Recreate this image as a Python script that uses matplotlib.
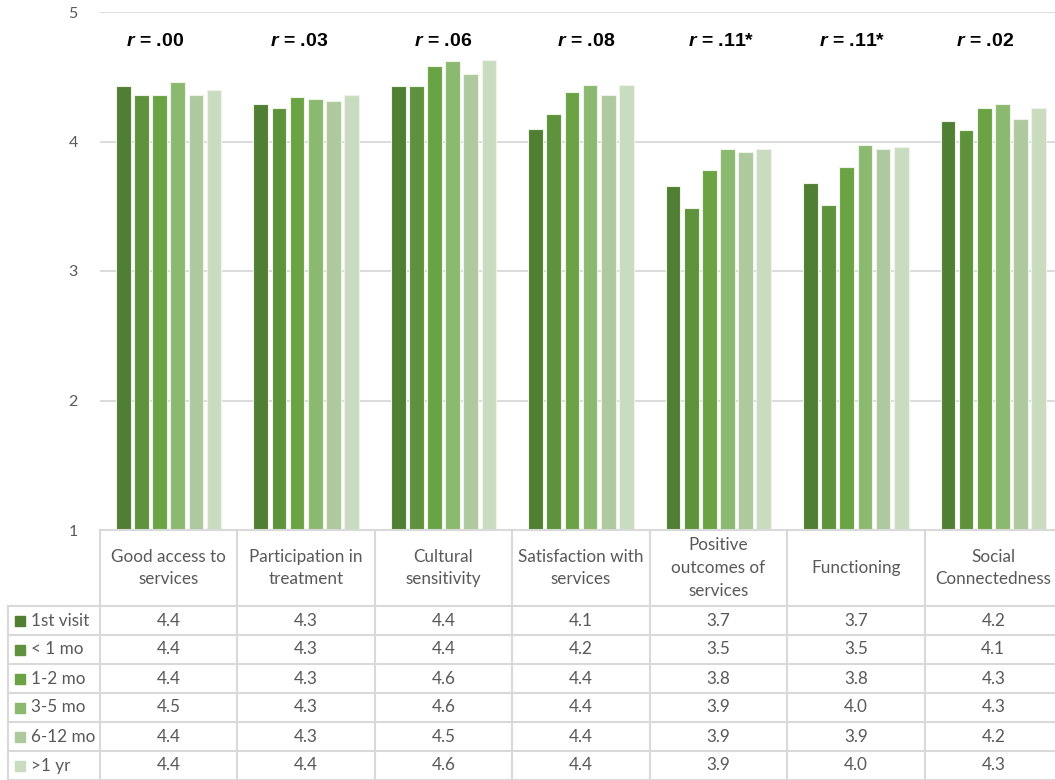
import numpy as np
import matplotlib
matplotlib.use('Agg')
import matplotlib.pyplot as plt

categories = ['Good access to\nservices', 'Participation in\ntreatment', 'Cultural\nsensitivity',
              'Satisfaction with\nservices', 'Positive\noutcomes of\nservices', 'Functioning',
              'Social\nConnectedness']
groups = ['1st visit', '< 1 mo', '1-2 mo', '3-5 mo', '6-12 mo', '>1 yr']
r_labels = ['.00', '.03', '.06', '.08', '.11*', '.11*', '.02']

first_visit = [4.43, 4.29, 4.43, 4.10, 3.66, 3.68, 4.16]
under_1mo = [4.36, 4.26, 4.43, 4.21, 3.49, 3.51, 4.09]
mo_1_2 = [4.36, 4.34, 4.58, 4.38, 3.78, 3.80, 4.26]
mo_3_5 = [4.46, 4.33, 4.62, 4.44, 3.94, 3.97, 4.29]
mo_6_12 = [4.36, 4.31, 4.52, 4.36, 3.92, 3.94, 4.17]
over_1yr = [4.40, 4.36, 4.63, 4.44, 3.94, 3.96, 4.26]
series = [first_visit, under_1mo, mo_1_2, mo_3_5, mo_6_12, over_1yr]

colors = ['#507e32', '#5f923c', '#6ba344', '#8bb96f', '#aec99d', '#c9dcc0']
grid_c = '#d9d9d9'
txt_c = '#595959'

plt.rcParams['font.family'] = ['Lato', 'DejaVu Sans']
plt.rcParams['mathtext.fontset'] = 'custom'
plt.rcParams['mathtext.bfit'] = 'Liberation Sans:italic:bold'

W, H = 1055, 780
fig = plt.figure(figsize=(W / 100, H / 100), dpi=100)

# pixel layout
x0, x1 = 100, 1062
ytop, ybot = 12, 530
colw = (x1 - x0) / len(categories)

ax = fig.add_axes([x0 / W, 1 - ybot / H, (x1 - x0) / W, (ybot - ytop) / H])
ax.set_xlim(-0.5, len(categories) - 0.5)
ax.set_ylim(1, 5)
ax.set_yticks([1, 2, 3, 4, 5])
ax.yaxis.grid(True, color=grid_c, lw=1.3)
ax.set_axisbelow(True)
for s in ax.spines.values():
    s.set_visible(False)
ax.tick_params(axis='y', length=0, labelsize=11.5, labelcolor=txt_c, pad=16)
ax.set_xticks([])

x = np.arange(len(categories))
pitch = 0.132
bw = 0.108
for i, vals in enumerate(series):
    ax.bar(x + (i - 2.5) * pitch, np.array(vals) - 1, bw, bottom=1, color=colors[i],
           edgecolor='#eef3ea', linewidth=0.8, zorder=3)

# the r labels sit slightly off the group centres in the original
nudge = [-0.10, -0.05, 0.0, 0.04, 0.02, -0.03, -0.06]
for k, lab in enumerate(r_labels):
    ax.text(k + nudge[k], 4.77, r'$\mathbfit{r}$' + ' = ' + lab, ha='center', va='center',
            fontsize=14, fontweight='bold', family=['Liberation Sans Narrow', 'Liberation Sans'])

# data table below the axes, in pixel coordinates
tab = fig.add_axes([0, 0, 1, 1], facecolor='none')
tab.set_xlim(0, W)
tab.set_ylim(H, 0)
tab.axis('off')

row_top = 606
row_h = 29
lx = 8
tab.plot([x0, W], [ybot, ybot], color=grid_c, lw=1.5)
for k in range(len(categories) + 1):
    xe = x0 + k * colw
    tab.plot([xe, xe], [ybot, H], color=grid_c, lw=1.5)
tab.plot([lx, lx], [row_top, H], color=grid_c, lw=1.5)
for r in range(len(groups) + 1):
    yy = row_top + r * row_h
    tab.plot([lx, W], [yy, yy], color=grid_c, lw=1.5)

for k, cat in enumerate(categories):
    tab.text(x0 + (k + 0.5) * colw, (ybot + row_top) / 2, cat, ha='center', va='center',
             fontsize=12.3, color=txt_c, linespacing=1.5)

for r, name in enumerate(groups):
    yc = row_top + (r + 0.5) * row_h
    tab.add_patch(plt.Rectangle((15, yc - 5), 10, 10, color=colors[r]))
    tab.text(31, yc, name, ha='left', va='center', fontsize=12.3, color=txt_c)
    for k in range(len(categories)):
        tab.text(x0 + (k + 0.5) * colw, yc, f'{series[r][k]:.1f}', ha='center', va='center',
                 fontsize=12.3, color=txt_c)

fig.savefig('out.png', dpi=100)
